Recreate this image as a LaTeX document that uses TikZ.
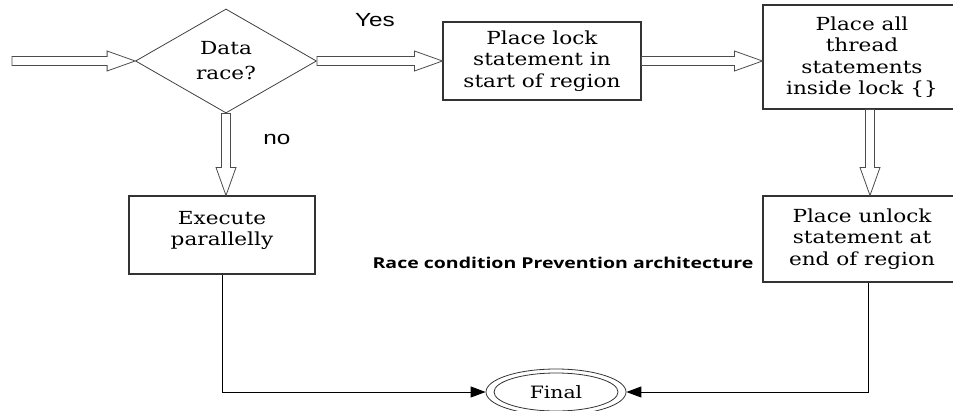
\documentclass[tikz,border=0pt]{standalone}
\usepackage{fontspec}
\setmainfont{DejaVu Serif}[FakeStretch=1.2]
\newfontfamily\labelfont{Liberation Sans}[FakeStretch=1.28]
\newfontfamily\notefont{Open Sans}[FakeStretch=1.3]
\usetikzlibrary{arrows.meta,positioning,shapes.geometric,calc}

\begin{document}
\begin{tikzpicture}[x=1pt, y=-1pt, >={Triangle[length=15pt,width=11pt]},
  box/.style={draw=black!80, line width=1.1pt, align=center, inner sep=0pt, font=\fontsize{18}{21.5}\selectfont},
  tag/.style={font=\labelfont\fontsize{19}{22}\selectfont},
  hollow/.style={draw=black!70, line width=0.8pt, fill=white, line join=miter, to path={
    ($(\tikztotarget)!28pt!(\tikztostart)$) coordinate (hq)
    ($(\tikztostart)!4.5pt!90:(\tikztotarget)$) -- ($(hq)!4.5pt!90:(\tikztotarget)$)
    -- ($(hq)!10pt!90:(\tikztotarget)$) -- (\tikztotarget) -- ($(hq)!10pt!-90:(\tikztotarget)$)
    -- ($(hq)!4.5pt!-90:(\tikztotarget)$) -- ($(\tikztostart)!4.5pt!-90:(\tikztotarget)$) -- cycle}}]
  \useasboundingbox (0,0) rectangle (953,410);
  \clip (0,0) rectangle (953,410);

  \node[diamond, draw=black!75, line width=0.8pt, minimum width=181, minimum height=104, inner sep=0pt,
    shape aspect=1.74, align=center, font=\fontsize{18}{25}\selectfont] (d) at (226,61) {Data\\race?};
  \node[box, minimum width=198, minimum height=78] (p1) at (542,61) {Place lock\\statement in\\start of region};
  \node[box, minimum width=198, minimum height=104] (p2) at (862,57) {Place all\\thread\\statements\\inside lock \{\}};
  \node[box, minimum width=198, minimum height=86] (p3) at (862,239) {Place unlock\\statement at\\end of region};
  \node[box, minimum width=186, minimum height=78] (ex) at (222,235) {Execute\\parallelly\\[-8pt]};
  \node[ellipse, draw=black!80, line width=0.8pt, minimum width=140, minimum height=46, inner sep=0pt,
    font=\fontsize{17}{20}\selectfont] (fin) at (556,392) {Final};
  \draw[black!80, line width=0.8pt] (fin.center) ellipse [x radius=62pt, y radius=19pt];

  \node[tag] (yes) at (375,20) {Yes};
  \node[tag] (no) at (277,139) {no};
  \node[font=\notefont\bfseries\fontsize{15}{17}\selectfont] (note) at (563,263) {Race condition Prevention architecture};

  \coordinate (in) at (12,61);
  \coordinate (dn) at (d.south |- ex.north);
  \coordinate (p2in) at (p2.west |- p1.east);
  \coordinate (p2out) at ([xshift=8pt]p2.south);
  \coordinate (p3in) at ([xshift=8pt]p3.north);

  \draw[hollow] (in) to (d.west);
  \draw[hollow] (d.east) to (p1.west);
  \draw[hollow] (p1.east) to (p2in);
  \draw[hollow] (p2out) to (p3in);
  \draw[hollow] (d.south) to (dn);
  \draw[->, line width=1pt] (ex.south) |- (fin.west);
  \draw[->, line width=1pt] ([xshift=6pt]p3.south) |- (fin.east);
\end{tikzpicture}
\end{document}
